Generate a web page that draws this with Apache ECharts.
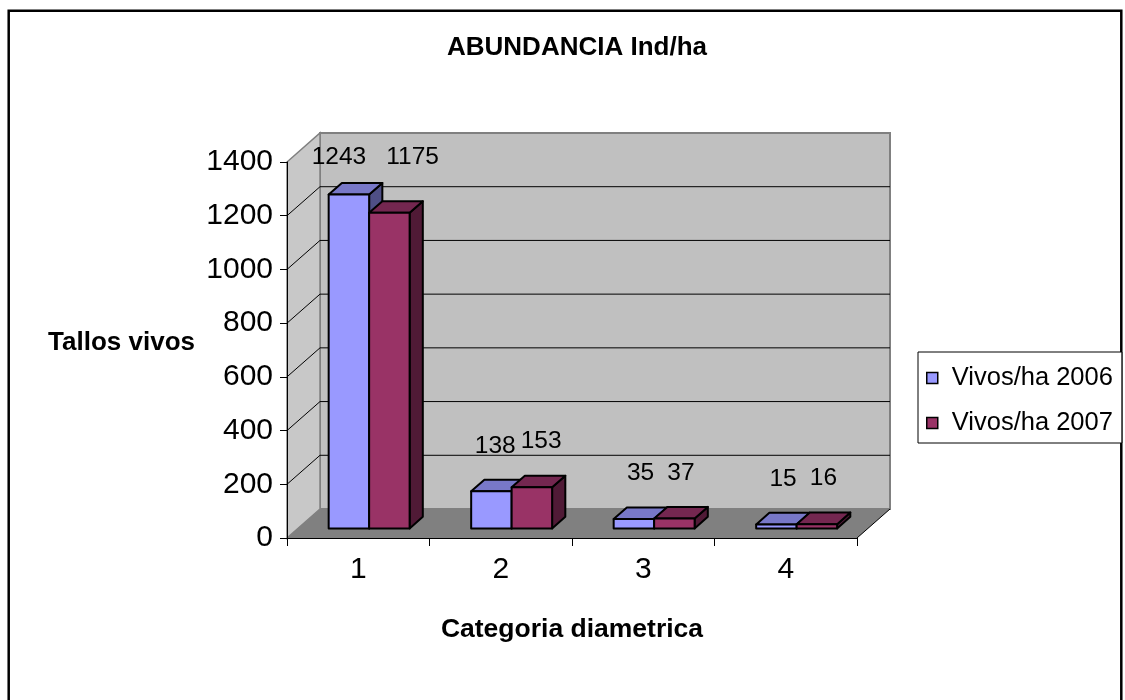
<!DOCTYPE html>
<html>
<head>
<meta charset="utf-8">
<script src="https://cdn.jsdelivr.net/npm/echarts@6/dist/echarts.min.js"></script>
<style>
  html, body { margin: 0; padding: 0; background: #ffffff; }
  #chart { width: 1125px; height: 700px; }
</style>
</head>
<body>
<div id="chart"></div>
<script>
// ---- data ----
const categories = ['1', '2', '3', '4'];
const vivos2006 = [1243, 138, 35, 15];
const vivos2007 = [1175, 153, 37, 16];
const seriesNames = ['Vivos/ha 2006', 'Vivos/ha 2007'];
const yTicks = [0, 200, 400, 600, 800, 1000, 1200, 1400];

// ---- look ----
const FONT = "'Liberation Sans', Arial, Helvetica, sans-serif";
const DEPTH = { x: 33, y: -29 };      // oblique offset from the front plane to the back wall
const BAR_FRONT = 0.33;               // bars start this far into the depth
const BAR_DEPTH = 0.40;               // and are this deep
const BAR_FRAC = 0.284;               // width of one bar as a share of the category band
const palettes = [
  { front: '#9999ff', top: '#7878c8', side: '#4f4f86' },
  { front: '#993366', top: '#742750', side: '#501a36' }
];
const LABEL_SIZE = 24.5;

const measureCtx = document.createElement('canvas').getContext('2d');
function textWidth(str) {
  measureCtx.font = LABEL_SIZE + 'px ' + FONT;
  return measureCtx.measureText(str).width;
}

const yMin = yTicks[0];
const yMax = yTicks[yTicks.length - 1];
const yStep = yTicks[1] - yTicks[0];
const allValues = [vivos2006, vivos2007];

// Walls, floor and the 3-D gridlines, placed with the grid's own scales
function renderWalls(params, api) {
  const cs = params.coordSys;
  const L = cs.x, R = cs.x + cs.width;
  const y0 = api.coord([0, yMin])[1];
  const yT = api.coord([0, yMax])[1];
  const dx = DEPTH.x, dy = DEPTH.y;
  const children = [];
  children.push({
    type: 'polygon',
    shape: { points: [[L + dx, yT + dy], [R + dx, yT + dy], [R + dx, y0 + dy], [L + dx, y0 + dy]] },
    style: { fill: '#c0c0c0', stroke: '#808080', lineWidth: 2 }
  });
  children.push({
    type: 'polygon',
    shape: { points: [[L, y0], [L, yT], [L + dx, yT + dy], [L + dx, y0 + dy]] },
    style: { fill: '#c8c8c8', stroke: '#808080', lineWidth: 1.5 }
  });
  yTicks.forEach(function (v) {
    if (v === yMin || v === yMax) return;
    const y = api.coord([0, v])[1];
    children.push({
      type: 'line',
      shape: { x1: L + dx, y1: y + dy, x2: R + dx, y2: y + dy },
      style: { stroke: '#000', lineWidth: 1 }
    });
    children.push({
      type: 'line',
      shape: { x1: L, y1: y, x2: L + dx, y2: y + dy },
      style: { stroke: '#000', lineWidth: 1 }
    });
  });
  children.push({
    type: 'polygon',
    shape: { points: [[L, y0], [R, y0], [R + dx, y0 + dy], [L + dx, y0 + dy]] },
    style: { fill: '#808080' }
  });
  children.push({
    type: 'line',
    shape: { x1: R, y1: y0, x2: R + dx, y2: y0 + dy },
    style: { stroke: '#000', lineWidth: 1 }
  });
  return { type: 'group', children: children };
}

// geometry of one bar (series s, category c) on the front-shifted plane
function barGeom(api, s, c, v) {
  const band = api.size([1, 0])[0];
  const w = band * BAR_FRAC;
  const base = api.coord([c, 0]);
  const top = api.coord([c, v]);
  const ox = DEPTH.x * BAR_FRONT, oy = DEPTH.y * BAR_FRONT;
  const x0 = base[0] + ox + (s === 0 ? -w : 0);
  const x1 = x0 + w;
  const yb = base[1] + oy;
  const yt = top[1] + oy;
  const bx = DEPTH.x * BAR_DEPTH, by = DEPTH.y * BAR_DEPTH;
  return { x0: x0, x1: x1, yb: yb, yt: yt, bx: bx, by: by };
}

// label centres for both bars of a category; neighbours that collide are spread apart
function labelPlaces(api, c) {
  const yCap = api.coord([0, yMax])[1] - 5;
  const places = allValues.map(function (vals, s) {
    const g = barGeom(api, s, c, vals[c]);
    return {
      x: (g.x0 + g.x1) / 2 + g.bx / 2,
      y: Math.max(yCap, g.yt + g.by - 34),
      w: textWidth(String(vals[c]))
    };
  });
  const a = places[0], b = places[1];
  const need = (a.w + b.w) / 2;
  const dist = b.x - a.x;
  const mid = (a.x + b.x) / 2;
  if (dist < need - 4) {
    // clear overlap: push well apart and share one baseline
    const d = need + 20;
    a.x = mid - d / 2;
    b.x = mid + d / 2;
    const y = Math.min(a.y, b.y);
    a.y = y; b.y = y;
  } else if (dist < need + 5) {
    // just touching: open a small gap
    const d = need + 5;
    a.x = mid - d / 2;
    b.x = mid + d / 2;
  }
  return places;
}

function makeBarRenderer(s) {
  return function (params, api) {
    const c = api.value(0);
    const v = api.value(1);
    const g = barGeom(api, s, c, v);
    const pal = palettes[s];
    const edge = { stroke: '#000', lineWidth: 2, lineJoin: 'round' };
    const lp = labelPlaces(api, c)[s];
    return {
      type: 'group',
      children: [
        {
          type: 'polygon',
          shape: { points: [[g.x1, g.yb], [g.x1, g.yt], [g.x1 + g.bx, g.yt + g.by], [g.x1 + g.bx, g.yb + g.by]] },
          style: Object.assign({ fill: pal.side }, edge)
        },
        {
          type: 'polygon',
          shape: { points: [[g.x0, g.yt], [g.x1, g.yt], [g.x1 + g.bx, g.yt + g.by], [g.x0 + g.bx, g.yt + g.by]] },
          style: Object.assign({ fill: pal.top }, edge)
        },
        {
          type: 'polygon',
          shape: { points: [[g.x0, g.yb], [g.x0, g.yt], [g.x1, g.yt], [g.x1, g.yb]] },
          style: Object.assign({ fill: pal.front }, edge)
        },
        {
          type: 'text',
          x: lp.x,
          y: lp.y,
          style: {
            text: String(v),
            fontSize: LABEL_SIZE,
            fontFamily: FONT,
            fill: '#000',
            align: 'center',
            verticalAlign: 'middle'
          }
        }
      ]
    };
  };
}

const chart = echarts.init(document.getElementById('chart'), null, { renderer: 'canvas' });

chart.setOption({
  animation: false,
  backgroundColor: '#ffffff',
  textStyle: { fontFamily: FONT },
  graphic: [
    {
      type: 'rect',
      shape: { x: 8.7, y: 10.7, width: 1112.6, height: 720 },
      style: { fill: 'none', stroke: '#000', lineWidth: 2.5 },
      silent: true,
      z: 0
    },
    {
      type: 'text',
      x: 577,
      y: 48,
      style: {
        text: 'ABUNDANCIA Ind/ha',
        fontSize: 26,
        fontWeight: 'bold',
        fontFamily: FONT,
        fill: '#000',
        align: 'center',
        verticalAlign: 'middle'
      },
      z: 10
    },
    {
      type: 'text',
      x: 195,
      y: 343,
      style: {
        text: 'Tallos vivos',
        fontSize: 26,
        fontWeight: 'bold',
        fontFamily: FONT,
        fill: '#000',
        align: 'right',
        verticalAlign: 'middle'
      },
      z: 10
    }
  ],
  grid: { left: 287, right: 268, top: 162, bottom: 162, containLabel: false },
  legend: {
    orient: 'vertical',
    left: 918,
    top: 352,
    data: seriesNames,
    icon: 'rect',
    itemWidth: 11,
    itemHeight: 11,
    itemGap: 19,
    padding: [13, 9, 7, 8],
    borderColor: '#000',
    borderWidth: 1,
    backgroundColor: '#ffffff',
    selectedMode: false,
    itemStyle: { borderColor: '#000', borderWidth: 1.5 },
    textStyle: { fontSize: 25.5, fontFamily: FONT, color: '#000', padding: [0, 0, 0, 9] }
  },
  xAxis: {
    type: 'category',
    data: categories,
    boundaryGap: true,
    z: 5,
    axisLine: { show: true, lineStyle: { color: '#000', width: 1 } },
    axisTick: { show: true, length: 8, alignWithLabel: false, lineStyle: { color: '#000' } },
    axisLabel: { fontSize: 30, fontFamily: FONT, color: '#000', margin: 17 },
    splitLine: { show: false },
    name: 'Categoria diametrica',
    nameLocation: 'middle',
    nameGap: 78,
    nameTextStyle: { fontSize: 26.5, fontWeight: 'bold', color: '#000', fontFamily: FONT }
  },
  yAxis: {
    type: 'value',
    min: yMin,
    max: yMax,
    interval: yStep,
    z: 5,
    axisLine: { show: true, lineStyle: { color: '#000', width: 1 } },
    axisTick: { show: true, length: 7, lineStyle: { color: '#000' } },
    axisLabel: {
      fontSize: 30,
      fontFamily: FONT,
      color: '#000',
      margin: 14,
      formatter: function (v) { return String(v); }
    },
    splitLine: { show: false }
  },
  series: [
    {
      type: 'custom',
      name: 'walls',
      silent: true,
      z: 1,
      renderItem: renderWalls,
      data: [[0, 0]],
      encode: { x: 0, y: 1 },
      clip: false
    },
    {
      type: 'custom',
      name: seriesNames[0],
      z: 3,
      itemStyle: { color: palettes[0].front },
      renderItem: makeBarRenderer(0),
      data: vivos2006.map(function (v, i) { return [i, v]; }),
      encode: { x: 0, y: 1 },
      clip: false
    },
    {
      type: 'custom',
      name: seriesNames[1],
      z: 3,
      itemStyle: { color: palettes[1].front },
      renderItem: makeBarRenderer(1),
      data: vivos2007.map(function (v, i) { return [i, v]; }),
      encode: { x: 0, y: 1 },
      clip: false
    }
  ]
});
</script>
</body>
</html>
